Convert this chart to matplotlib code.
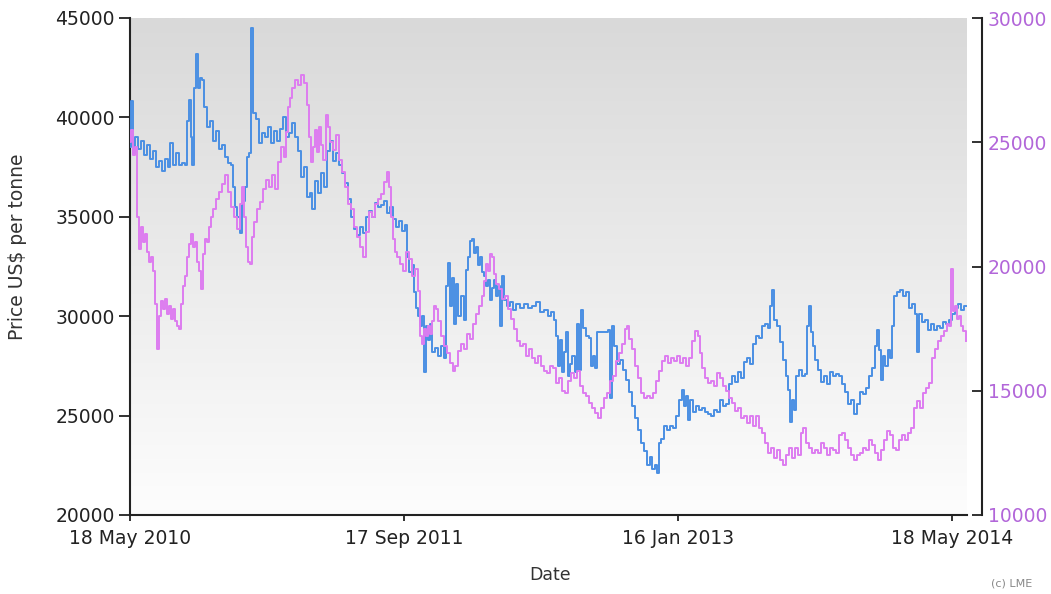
import numpy as np
import matplotlib
matplotlib.use("Agg")
import matplotlib.pyplot as plt
from matplotlib.colors import LinearSegmentedColormap
from matplotlib.ticker import FormatStrFormatter

# days since 18 May 2010 and prices
start = np.datetime64("2010-05-18")

blue_days = [0, 2, 5, 9, 14, 20, 25, 30, 36, 41, 46, 52, 57, 62, 68, 71, 76, 82, 87, 92, 98, 101, 105, 108, 110,
             114, 117, 121, 124, 128, 132, 137, 142, 148, 153, 158, 164, 169, 174, 180, 183, 187, 190, 196, 199,
             204, 208, 212, 215, 219, 224, 229, 235, 240, 245, 251, 256, 261, 267, 272, 277, 283, 288, 293, 299,
             304, 309, 315, 320, 324, 329, 334, 340, 345, 350, 356, 361, 366, 371, 377, 382, 388, 393, 398, 404,
             409, 414, 419, 425, 430, 435, 441, 446, 451, 457, 462, 467, 473, 478, 483, 489, 492, 496, 501, 505,
             508, 512, 515, 519, 523, 526, 530, 533, 537, 542, 547, 553, 558, 562, 565, 569, 572, 576, 579, 583,
             588, 594, 597, 601, 604, 608, 611, 615, 619, 622, 626, 629, 633, 636, 640, 643, 647, 651, 654, 658,
             661, 665, 670, 675, 681, 686, 693, 700, 707, 715, 722, 729, 736, 743, 748, 754, 757, 761, 764, 768,
             771, 775, 779, 782, 786, 791, 795, 798, 802, 805, 811, 816, 819, 823, 827, 830, 837, 844, 850, 853,
             857, 860, 866, 871, 876, 882, 887, 892, 898, 903, 908, 914, 919, 924, 928, 933, 937, 940, 944, 949,
             955, 960, 965, 971, 976, 981, 985, 988, 992, 995, 1001, 1006, 1011, 1017, 1022, 1027, 1033, 1038,
             1043, 1049, 1054, 1059, 1065, 1070, 1075, 1081, 1086, 1091, 1097, 1102, 1107, 1113, 1118, 1123,
             1129, 1134, 1138, 1141, 1145, 1150, 1155, 1161, 1166, 1170, 1173, 1177, 1180, 1184, 1189, 1194,
             1200, 1203, 1207, 1210, 1214, 1218, 1223, 1228, 1234, 1239, 1244, 1250, 1255, 1260, 1266, 1271,
             1276, 1282, 1287, 1292, 1298, 1303, 1308, 1314, 1319, 1324, 1328, 1331, 1335, 1338, 1342, 1347,
             1351, 1354, 1358, 1363, 1369, 1374, 1379, 1385, 1390, 1395, 1399, 1402, 1408, 1413, 1418, 1424,
             1429, 1434, 1440, 1445, 1450, 1456, 1461, 1466, 1472, 1477, 1482, 1486]
blue_vals = [38500, 40800, 38200, 39000, 38400, 38800, 38100, 38600, 37900, 38300, 37500, 37800, 37300, 37900,
             37500, 38700, 37600, 38200, 37600, 37700, 37600, 39800, 40900, 39000, 37600, 41500, 43200, 41500,
             42000, 41900, 40500, 39500, 39800, 38800, 39300, 38400, 38600, 38000, 37700, 37600, 36500, 35500,
             35000, 34200, 35800, 36500, 38000, 38200, 44500, 40200, 39900, 38700, 39200, 39000, 39500, 38700,
             39300, 38800, 39400, 40000, 39000, 39200, 39700, 39000, 38300, 37000, 37500, 36000, 36200, 35400,
             36800, 36200, 37200, 36500, 38300, 38800, 37800, 38200, 37600, 37200, 36700, 35900, 35000, 34400,
             34100, 34500, 34200, 35000, 35300, 35000, 35700, 35500, 35600, 35800, 35200, 35500, 34900, 34500,
             34800, 34300, 34600, 33000, 32200, 32600, 31200, 30400, 30000, 29500, 30000, 27200, 29500, 28800,
             29600, 28200, 28400, 28000, 28500, 27900, 31500, 32700, 30500, 31900, 29600, 31600, 30000, 31000,
             29800, 32300, 33000, 33800, 33900, 33200, 33500, 32600, 33000, 32200, 32000, 31500, 31800, 30800,
             31400, 31800, 31000, 31500, 29500, 32000, 30800, 30500, 30700, 30300, 30600, 30400, 30600, 30400,
             30500, 30700, 30200, 30300, 30000, 30200, 29800, 29000, 27500, 28800, 27200, 28200, 29200, 27000,
             27600, 28000, 27200, 29600, 27300, 30300, 29400, 29000, 28900, 27500, 28000, 27400, 29200, 29200,
             29200, 29300, 25900, 29500, 28500, 27600, 27800, 27300, 26800, 26200, 25500, 24900, 24300, 23600,
             23200, 22500, 22900, 22300, 22500, 22100, 23600, 23800, 24500, 24300, 24500, 24400, 25000, 25800,
             26300, 25500, 26000, 24800, 25800, 25200, 25500, 25300, 25400, 25200, 25100, 25000, 25300, 25200,
             25800, 25500, 25600, 26600, 27000, 26700, 27200, 26900, 27700, 27900, 27600, 28600, 29000, 28900,
             29500, 29600, 29400, 30500, 31300, 29800, 29500, 28700, 27800, 27000, 26300, 24700, 25800, 25300,
             27000, 27300, 27000, 27100, 29500, 30500, 29200, 28500, 27800, 27300, 26700, 27000, 26600, 27200,
             27000, 27100, 27000, 26600, 26200, 25600, 25800, 25100, 25600, 26200, 26100, 26400, 27000, 27400,
             28500, 29300, 28300, 26800, 28000, 27500, 28300, 27900, 29500, 31000, 31200, 31300, 31000, 31200,
             30400, 30600, 30100, 28200, 30100, 29700, 29800, 29300, 29600, 29300, 29500, 29400, 29700, 29600,
             29800, 30100, 30400, 30600, 30300, 30500, 30500]

pink_days = [0, 2, 5, 9, 12, 16, 20, 23, 27, 30, 34, 37, 41, 44, 48, 52, 55, 59, 62, 66, 69, 73, 76, 80, 84, 87,
             91, 94, 98, 101, 105, 108, 112, 116, 119, 123, 126, 130, 133, 137, 140, 144, 148, 153, 158, 164, 169,
             174, 180, 185, 190, 196, 199, 203, 206, 210, 213, 217, 220, 226, 231, 236, 242, 247, 252, 258, 263,
             268, 274, 277, 281, 284, 288, 293, 299, 304, 309, 315, 318, 322, 325, 329, 332, 336, 340, 343, 348,
             352, 356, 361, 366, 371, 377, 382, 388, 393, 398, 404, 409, 414, 419, 425, 430, 435, 441, 446, 451,
             457, 460, 464, 467, 471, 475, 480, 485, 491, 496, 501, 507, 512, 515, 519, 523, 526, 530, 533, 537,
             540, 544, 547, 553, 558, 563, 569, 574, 578, 583, 588, 594, 599, 604, 610, 615, 620, 626, 629, 633,
             636, 640, 643, 647, 651, 656, 661, 667, 672, 677, 683, 688, 693, 699, 704, 709, 715, 720, 725, 731,
             736, 741, 747, 752, 757, 763, 768, 773, 779, 784, 789, 795, 800, 805, 811, 816, 821, 827, 832, 837,
             843, 848, 853, 859, 864, 869, 875, 880, 884, 887, 892, 898, 903, 908, 914, 919, 924, 930, 935, 940,
             946, 951, 956, 962, 967, 972, 978, 983, 988, 994, 999, 1004, 1010, 1013, 1017, 1022, 1027, 1033,
             1038, 1043, 1049, 1054, 1059, 1065, 1070, 1075, 1081, 1086, 1091, 1097, 1102, 1107, 1113, 1118,
             1123, 1129, 1134, 1139, 1145, 1150, 1155, 1161, 1166, 1171, 1177, 1182, 1187, 1193, 1196, 1202,
             1207, 1212, 1218, 1223, 1228, 1234, 1239, 1244, 1250, 1255, 1260, 1266, 1271, 1276, 1282, 1287,
             1292, 1298, 1303, 1308, 1314, 1319, 1324, 1330, 1335, 1340, 1346, 1351, 1356, 1362, 1367, 1372,
             1378, 1383, 1388, 1394, 1399, 1404, 1410, 1415, 1420, 1426, 1431, 1436, 1442, 1447, 1452, 1456,
             1459, 1463, 1466, 1470, 1474, 1477, 1481, 1486]
pink_vals = [25000, 25500, 24500, 24800, 22000, 20700, 21600, 21000, 21300, 20600, 20200, 20400, 19800, 18500,
             16700, 18000, 18600, 18300, 18700, 18100, 18400, 17900, 18300, 17800, 17600, 17500, 18500, 19200,
             19600, 20400, 20900, 21300, 20800, 21000, 20200, 19800, 19100, 20500, 21100, 21000, 21600, 22000,
             22300, 22700, 23000, 23300, 23700, 23000, 22400, 22000, 21500, 22500, 23200, 22000, 20800, 20200,
             20100, 21200, 21800, 22300, 22600, 23100, 23500, 23200, 23700, 23100, 24200, 24800, 24400, 25400,
             26400, 26800, 27200, 27500, 27300, 27700, 27400, 26500, 25200, 24200, 24800, 25500, 24600, 25600,
             24900, 24300, 26100, 25600, 25000, 24700, 25300, 24300, 23800, 23200, 22500, 22300, 21600, 21200,
             20800, 20400, 21400, 22200, 22000, 22500, 22700, 22900, 23400, 23800, 23200, 22000, 21100, 20600,
             20400, 20100, 19800, 20600, 20300, 19600, 19900, 19000, 17200, 16900, 17500, 17200, 17600, 17300,
             17800, 18400, 18300, 17800, 17200, 16800, 16500, 16100, 15800, 16000, 16600, 16900, 16700, 17300,
             17100, 17700, 18100, 18400, 18800, 19400, 20100, 19800, 20500, 20400, 19700, 19300, 19100, 18700,
             18800, 18300, 17900, 17500, 17000, 16800, 16900, 16400, 16700, 16300, 16100, 16400, 16000, 15800,
             15700, 16000, 15900, 15300, 15500, 15000, 14900, 15400, 15700, 15500, 15800, 15200, 14900, 14800,
             14500, 14300, 14100, 13900, 14300, 14700, 14900, 15400, 15600, 16200, 16500, 16900, 17500, 17600,
             17100, 16700, 16000, 15500, 14900, 14700, 14800, 14700, 14900, 15400, 15800, 16200, 16400, 16100,
             16300, 16200, 16400, 16100, 16300, 16000, 16300, 17000, 17400, 17200, 16500, 15900, 15500, 15300,
             15400, 15200, 15700, 15500, 15200, 15000, 14700, 14500, 14200, 14300, 13900, 14000, 13700, 14000,
             13600, 14000, 13500, 13300, 12900, 12500, 12700, 12300, 12600, 12200, 12000, 12400, 12700, 12300,
             12700, 12400, 13300, 13500, 12900, 12700, 12500, 12600, 12500, 12900, 12700, 12400, 12700, 12600,
             12500, 13200, 13300, 13000, 12700, 12400, 12200, 12400, 12500, 12700, 12600, 13000, 12800, 12500,
             12200, 12600, 13000, 13400, 13200, 12700, 12600, 13000, 13200, 13000, 13300, 13500, 14300, 14600,
             14300, 14900, 15100, 15300, 16300, 16700, 17000, 17200, 17400, 17700, 17600, 19900, 18200, 18400,
             17900, 18000, 17600, 17400, 17000]

tick_dates = ["2010-05-18", "2011-09-17", "2013-01-16", "2014-05-18"]
tick_labels = ["18 May 2010", "17 Sep 2011", "16 Jan 2013", "18 May 2014"]
left_ticks = [20000, 25000, 30000, 35000, 40000, 45000]
right_ticks = [10000, 15000, 20000, 25000, 30000]

blue_dates = start + np.array(blue_days, dtype="timedelta64[D]")
pink_dates = start + np.array(pink_days, dtype="timedelta64[D]")

fig = plt.figure(figsize=(10.51, 5.94), dpi=100)
ax = fig.add_axes([130 / 1051, 1 - 515 / 594, (967 - 130) / 1051, 497 / 594])
ax2 = ax.twinx()
ax2.patch.set_visible(False)

ax.plot(blue_dates, blue_vals, color="#4a8fe3", lw=1.4, drawstyle="steps-post", zorder=3)
ax2.plot(pink_dates, pink_vals, color="#dd7cf0", lw=1.4, drawstyle="steps-post")

# grey gradient behind the plot
bg = LinearSegmentedColormap.from_list("bg", ["#d9d9d9", "#fdfdfd"])
ax.imshow(np.linspace(0, 1, 256).reshape(-1, 1), aspect="auto", cmap=bg,
          extent=[0, 1, 0, 1], transform=ax.transAxes, zorder=0)

ax.set_xlim(start, start + np.timedelta64(1488, "D"))
ax.set_ylim(20000, 45000)
ax2.set_ylim(10000, 30000)

ax.set_xticks([np.datetime64(d) for d in tick_dates])
ax.set_xticklabels(tick_labels)
ax.set_yticks(left_ticks)
ax2.set_yticks(right_ticks)
ax.yaxis.set_major_formatter(FormatStrFormatter("%d"))
ax2.yaxis.set_major_formatter(FormatStrFormatter("%d"))

for s in ["top", "right"]:
    ax.spines[s].set_visible(False)
for s in ["top", "left", "bottom"]:
    ax2.spines[s].set_visible(False)
for s in ["left", "bottom"]:
    ax.spines[s].set_linewidth(1.5)
    ax.spines[s].set_color("#222222")
ax2.spines["right"].set_position(("outward", 11))
ax2.spines["right"].set_linewidth(1.5)
ax2.spines["right"].set_color("#222222")

ax.tick_params(axis="y", direction="out", length=8, width=1.3, labelsize=13.5,
               colors="#222222", pad=3)
ax.tick_params(axis="x", direction="out", length=4, width=1.3, labelsize=13.5,
               colors="#222222", pad=6)
ax2.tick_params(axis="y", direction="in", length=7.5, width=1.3, labelsize=13.5,
                color="#222222", labelcolor="#b266d9", pad=4)

fig.text(18 / 1051, 1 - 247 / 594, "Price US$ per tonne", rotation=90,
         ha="center", va="center", fontsize=13.5, color="#333333")
fig.text(550 / 1051, 1 - 575 / 594, "Date", ha="center", va="center",
         fontsize=12.5, color="#333333")
fig.text(1012 / 1051, 1 - 583 / 594, "(c) LME", ha="center", va="center",
         fontsize=8, color="#888888")

fig.savefig("out.png", dpi=100)
